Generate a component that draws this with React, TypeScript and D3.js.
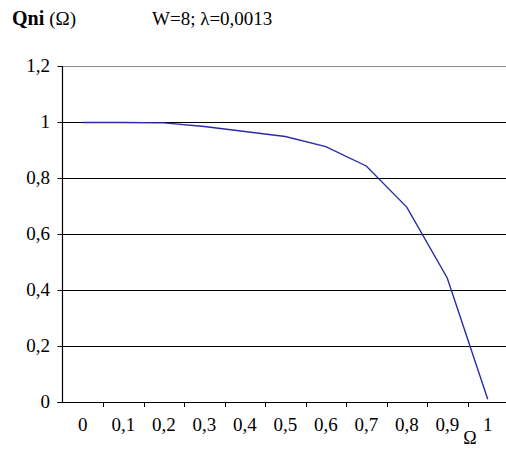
import React, { useEffect, useRef } from 'react';
import * as d3 from 'd3';

// categories on the x axis (Ω)
const omegaLabels = ['0', '0,1', '0,2', '0,3', '0,4', '0,5', '0,6', '0,7', '0,8', '0,9', '1'];
// Qni(Ω) values
const qniValues = [0.998, 0.998, 0.997, 0.984, 0.966, 0.948, 0.912, 0.843, 0.696, 0.443, 0.01];
// y axis ticks
const yTicks = [0, 0.2, 0.4, 0.6, 0.8, 1, 1.2];

export default function App() {
  const svgRef = useRef<SVGSVGElement>(null);

  useEffect(() => {
    if (!svgRef.current) return;
    const width = 506;
    const height = 450;
    const font = '"Liberation Serif", "Times New Roman", serif';

    const svg = d3.select(svgRef.current);
    svg.selectAll('*').remove();
    svg.attr('width', width).attr('height', height).style('background', '#fff');

    const left = 62.5;
    const x = d3.scaleBand<string>().domain(omegaLabels).range([left, left + 11 * 40.5]);
    const y = d3.scaleLinear().domain([0, 1.2]).range([402, 66]);

    // gridlines
    svg.append('g')
      .selectAll('line')
      .data(yTicks.filter(t => t > 0))
      .join('line')
      .attr('x1', left)
      .attr('x2', width)
      .attr('y1', d => Math.round(y(d)) + 0.5)
      .attr('y2', d => Math.round(y(d)) + 0.5)
      .attr('stroke', d => (d === 1.2 ? '#8c8c8c' : '#000'))
      .attr('stroke-width', 1.2);

    // y axis
    const yAxis = svg.append('g');
    yAxis.append('line')
      .attr('x1', left).attr('x2', left)
      .attr('y1', y(1.2)).attr('y2', y(0))
      .attr('stroke', '#000')
      .attr('stroke-width', 1.2);
    yAxis.selectAll('line.tick')
      .data(yTicks)
      .join('line')
      .attr('class', 'tick')
      .attr('x1', left - 5).attr('x2', left)
      .attr('y1', d => Math.round(y(d)) + 0.5)
      .attr('y2', d => Math.round(y(d)) + 0.5)
      .attr('stroke', '#000');
    yAxis.selectAll('text')
      .data(yTicks)
      .join('text')
      .attr('x', 50)
      .attr('y', d => y(d) + 6)
      .attr('text-anchor', 'end')
      .attr('font-family', font)
      .attr('font-size', 19)
      .attr('fill', '#000')
      .text(d => d3.format('~g')(d).replace('.', ','));

    // x axis
    const xAxis = svg.append('g');
    xAxis.append('line')
      .attr('x1', left - 5).attr('x2', width)
      .attr('y1', Math.round(y(0)) + 0.5).attr('y2', Math.round(y(0)) + 0.5)
      .attr('stroke', '#000')
      .attr('stroke-width', 1.2);
    xAxis.selectAll('line.tick')
      .data(omegaLabels.slice(1))
      .join('line')
      .attr('class', 'tick')
      .attr('x1', d => Math.round(x(d)!) + 0.5)
      .attr('x2', d => Math.round(x(d)!) + 0.5)
      .attr('y1', y(0)).attr('y2', y(0) + 5)
      .attr('stroke', '#000');
    xAxis.selectAll('text')
      .data(omegaLabels)
      .join('text')
      .attr('x', d => x(d)! + x.bandwidth() / 2)
      .attr('y', 431)
      .attr('text-anchor', 'middle')
      .attr('font-family', font)
      .attr('font-size', 19)
      .attr('fill', '#000')
      .text(d => d);

    // curve
    const line = d3.line<number>()
      .x((_, i) => x(omegaLabels[i])! + x.bandwidth() / 2)
      .y(d => y(d));
    svg.append('path')
      .datum(qniValues)
      .attr('d', line)
      .attr('fill', 'none')
      .attr('stroke', '#2a2aa6')
      .attr('stroke-width', 1.4);

    // titles
    const title = svg.append('text')
      .attr('x', 12)
      .attr('y', 25)
      .attr('font-family', font)
      .attr('fill', '#000');
    title.append('tspan').attr('font-weight', 'bold').attr('font-size', 20).text('Qni ');
    title.append('tspan').attr('font-size', 19).text('(Ω)');

    svg.append('text')
      .attr('x', 152)
      .attr('y', 25)
      .attr('font-family', font)
      .attr('font-size', 19)
      .attr('fill', '#000')
      .text('W=8; λ=0,0013');

    svg.append('text')
      .attr('x', 470)
      .attr('y', 444)
      .attr('text-anchor', 'middle')
      .attr('font-family', font)
      .attr('font-size', 18)
      .attr('fill', '#000')
      .text('Ω');
  }, []);

  return (
    <div style={{ position: 'absolute', left: 0, top: 0 }}>
      <svg ref={svgRef} style={{ display: 'block' }}></svg>
    </div>
  );
}
